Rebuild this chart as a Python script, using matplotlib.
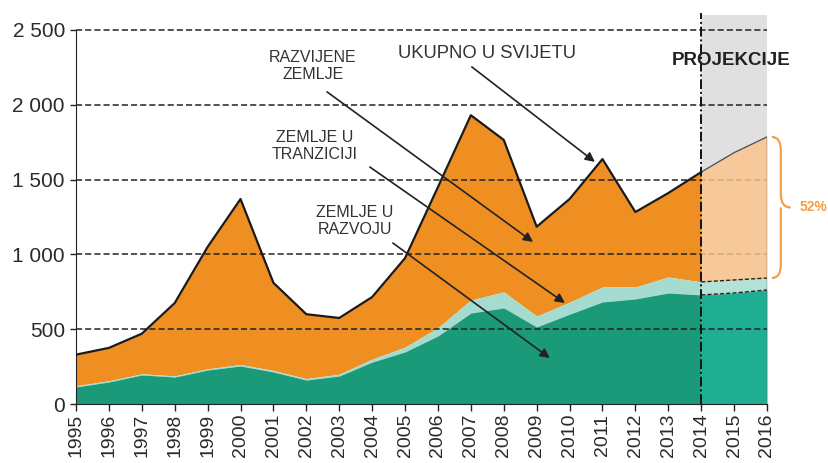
import matplotlib
matplotlib.use("Agg")
import matplotlib.pyplot as plt
import numpy as np
from matplotlib.path import Path
from matplotlib.patches import PathPatch

plt.rcParams['font.family'] = ['Liberation Sans', 'DejaVu Sans']

years = list(range(1995, 2017))
total = [330, 375, 470, 675, 1050, 1370, 810, 600, 575, 715, 975, 1450,
         1930, 1765, 1185, 1370, 1637, 1283, 1410, 1550, 1680, 1785]
developing = [114, 147, 194, 180, 227, 254, 214, 160, 187, 280, 348, 455,
              608, 642, 515, 600, 682, 702, 742, 729, 742, 762]
transition = [8, 8, 8, 8, 8, 10, 10, 10, 12, 20, 32, 55,
              87, 107, 73, 80, 100, 80, 107, 87, 87, 80]
ytick_vals = [0, 500, 1000, 1500, 2000, 2500]
ytick_labels = ["0", "500", "1 000", "1 500", "2 000", "2 500"]
proj_start = 2014
share_label = "52%"

yrs = np.array(years)
tot = np.array(total, float)
dev = np.array(developing, float)
tra = np.array(transition, float)
lay1 = dev
lay2 = dev + tra

ORANGE = '#ef8f22'
GREEN = '#1a9a78'
LTEAL = '#a6dccf'
P_GREEN = '#1fae91'
P_LTEAL = '#b3e2d6'
P_ORANGE = '#f6c089'
GREY = '#e0e0e0'
TXT = '#333333'

fig = plt.figure(figsize=(8.29, 4.63), dpi=100)
ax = fig.add_axes([76/829, (463-404)/463, 691/829, 389/463])
ax.set_xlim(1995, 2016)
ax.set_ylim(0, 2600)

h = yrs <= proj_start
p = yrs >= proj_start

# projection background
ax.fill_between([proj_start, 2016], 0, 2600, color=GREY, zorder=0, lw=0)

# historical fills
ax.fill_between(yrs[h], lay2[h], tot[h], color=ORANGE, lw=0, zorder=1)
ax.fill_between(yrs[h], lay1[h], lay2[h], color=LTEAL, lw=0, zorder=1)
ax.fill_between(yrs[h], 0, lay1[h], color=GREEN, lw=0, zorder=1)

# projection fills
ax.fill_between(yrs[p], 0, tot[p], color='white', lw=0, zorder=0.5)
ax.fill_between(yrs[p], lay1[p], lay2[p], color=P_LTEAL, lw=0, zorder=1)
ax.fill_between(yrs[p], 0, lay1[p], color=P_GREEN, lw=0, zorder=1)

# grid lines
for v in ytick_vals[1:]:
    ax.plot([1995, 2016], [v, v], color='#222222', lw=1.1,
            dashes=(4, 2), zorder=2)

ax.fill_between(yrs[p], lay2[p], tot[p], color=P_ORANGE, lw=0,
                alpha=0.85, zorder=3)

# outlines
ax.plot(yrs[h], tot[h], color='#1a1a1a', lw=1.6, zorder=4)
ax.plot(yrs[p], tot[p], color='#555555', lw=1.0, zorder=4)
ax.plot(yrs[p], lay2[p], color='#222222', lw=1.0, dashes=(3, 1.5), zorder=4)
ax.plot(yrs[p], lay1[p], color='#222222', lw=1.0, dashes=(3, 1.5), zorder=4)
ax.plot([2016, 2016], [0, tot[-1]], color='#555555', lw=1.0, zorder=4)
ax.plot([proj_start, proj_start], [0, 2615], color='#111111', lw=1.4,
        dashes=(5, 1.5, 1, 1.5), zorder=5, clip_on=False)

# spines and ticks
for s in ['top', 'right']:
    ax.spines[s].set_visible(False)
ax.spines['left'].set_color('#222222')
ax.spines['bottom'].set_color('#222222')
ax.spines['left'].set_bounds(0, 2500)
ax.set_yticks(ytick_vals)
ax.set_yticklabels(ytick_labels, fontsize=15, color='#2a2a2a')
ax.set_xticks(years)
ax.set_xticklabels([str(y) for y in years], rotation=90, fontsize=14,
                   color='#2a2a2a')
ax.tick_params(axis='y', length=4, width=1, color='#222222', pad=4)
ax.tick_params(axis='x', length=5, width=1, color='#222222', pad=2)

# annotations
arrow = dict(arrowstyle='-|>', color='#222222', lw=1.2, mutation_scale=14,
             shrinkA=0, shrinkB=0)
fs = 11.5
ax.text(2002.2, 2259, "RAZVIJENE\nZEMLJE", ha='center', va='center',
        fontsize=fs, color=TXT, linespacing=1.15, zorder=6)
ax.annotate("", xy=(2008.89, 1083), xytext=(2002.63, 2086), arrowprops=arrow,
            zorder=6)
ax.text(2007.49, 2346, "UKUPNO U SVIJETU", ha='center', va='center',
        fontsize=13.3, color=TXT, zorder=6)
ax.annotate("", xy=(2010.77, 1618), xytext=(2007.03, 2253), arrowprops=arrow,
            zorder=6)
ax.text(2002.26, 1725, "ZEMLJE U\nTRANZICIJI", ha='center', va='center',
        fontsize=fs, color=TXT, linespacing=1.15, zorder=6)
ax.annotate("", xy=(2009.86, 675), xytext=(2003.93, 1584), arrowprops=arrow,
            zorder=6)
ax.text(2003.48, 1223, "ZEMLJE U\nRAZVOJU", ha='center', va='center',
        fontsize=fs, color=TXT, linespacing=1.15, zorder=6)
ax.annotate("", xy=(2009.40, 307), xytext=(2004.63, 1076), arrowprops=arrow,
            zorder=6)
ax.text(2014.91, 2299, "PROJEKCIJE", ha='center', va='center',
        fontsize=13.5, fontweight='bold', color='#222222', zorder=6)

# curly brace
ytop, ybot = tot[-1], lay2[-1]
ymid = (ytop + ybot) / 2
x0, xm, xt = 2016.15, 2016.42, 2016.72
r = 90
verts = [(x0, ytop), (xm, ytop), (xm, ytop - r), (xm, ymid + r),
         (xm, ymid), (xt, ymid),
         (xm, ymid), (xm, ymid - r), (xm, ybot + r), (xm, ybot), (x0, ybot)]
codes = [Path.MOVETO, Path.CURVE3, Path.CURVE3, Path.LINETO,
         Path.CURVE3, Path.CURVE3,
         Path.MOVETO, Path.CURVE3, Path.LINETO, Path.CURVE3, Path.CURVE3]
brace = PathPatch(Path(verts, codes), fc='none', ec='#f4a043', lw=1.6,
                  clip_on=False, zorder=6)
ax.add_patch(brace)
ax.text(2017.0, ymid, share_label, ha='left', va='center', fontsize=10,
        fontweight='bold', color='#f4a043', clip_on=False)

fig.savefig('out.png', dpi=100)
